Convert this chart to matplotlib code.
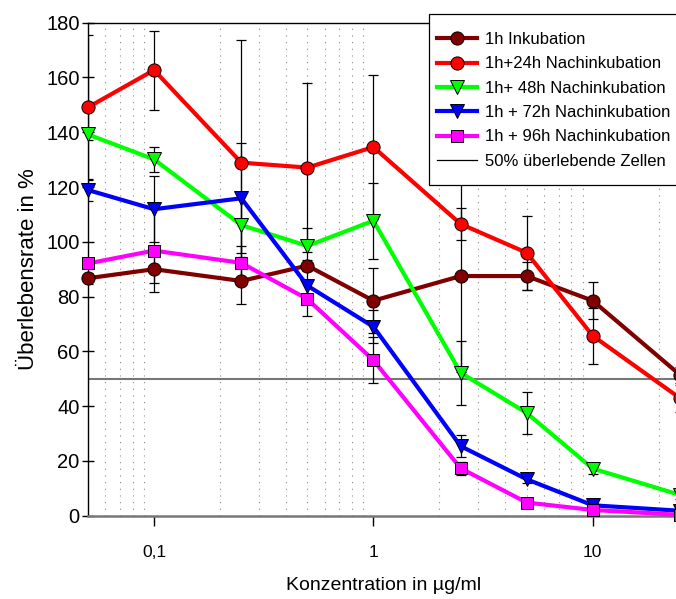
import matplotlib
matplotlib.use('Agg')
import matplotlib.pyplot as plt
from matplotlib.lines import Line2D
from matplotlib.patches import Rectangle
from matplotlib.ticker import FixedLocator, FixedFormatter, LogLocator, NullFormatter

# ── Data ──
conc = [0.05, 0.1, 0.25, 0.5, 1, 2.5, 5, 10, 25]

series_labels = ['1h Inkubation', '1h+24h Nachinkubation', '1h+ 48h Nachinkubation',
                 '1h + 72h Nachinkubation', '1h + 96h Nachinkubation']

inkub_1h = [86.7, 90.0, 85.7, 91.3, 78.5, 87.5, 87.5, 78.5, 51.4]
err_1h   = [2.0, 5.0, 8.4, 2.0, 11.8, 35.0, 5.0, 6.7, 3.0]
nach_24h = [149.1, 162.7, 128.9, 127.1, 134.6, 106.5, 96.0, 65.7, 42.9]
err_24h  = [26.4, 14.4, 44.7, 31.0, 26.3, 5.7, 13.5, 10.3, 5.0]
nach_48h = [139.2, 130.1, 106.1, 98.5, 107.7, 52.2, 37.5, 17.2, 7.6]
err_48h  = [2.0, 4.5, 11.6, 6.4, 13.9, 11.6, 7.5, 2.1, 1.5]
nach_72h = [118.9, 111.9, 115.9, 84.0, 69.0, 25.4, 13.3, 3.8, 1.8]
err_72h  = [4.0, 12.0, 20.0, 6.2, 6.1, 4.0, 1.5, 1.0, 0.5]
nach_96h = [92.1, 96.8, 92.3, 79.1, 56.8, 17.3, 4.8, 2.1, 0.3]
err_96h  = [2.0, 15.0, 6.2, 6.2, 8.5, 2.4, 1.0, 0.5, 0.3]

half_line = 50
xticks = [0.1, 1, 10]
xtick_labels = ['0,1', '1', '10']
yticks = [0, 20, 40, 60, 80, 100, 120, 140, 160, 180]

# ── Style ──
plt.rcParams.update({
    'font.family': ['Liberation Sans', 'DejaVu Sans'],
    'font.size': 12,
})

colors  = ['#800000', '#FF0000', '#00FF00', '#0000FF', '#FF00FF']
markers = ['o', 'o', 'v', 'v', 's']
values  = [inkub_1h, nach_24h, nach_48h, nach_72h, nach_96h]
errors  = [err_1h, err_24h, err_48h, err_72h, err_96h]

W, H = 676, 599
fig = plt.figure(figsize=(W/100, H/100), dpi=100)
ax = fig.add_axes([88/W, 1 - 515.7/H, (680 - 88)/W, (515.7 - 22.7)/H])
ax.set_xscale('log')
ax.set_xlim(0.05, 25)
ax.set_ylim(0, 180)

# error bars underneath
for vals, err in zip(values, errors):
    ax.errorbar(conc, vals, yerr=err, fmt='none', ecolor='black', elinewidth=0.9,
                capsize=3.5, capthick=0.9, zorder=2)

handles = []
for vals, c, m, lab in zip(values, colors, markers, series_labels):
    ms = 8.5 if m == 's' else 9.5
    h, = ax.plot(conc, vals, color=c, lw=3, marker=m, markersize=ms,
                 markerfacecolor=c, markeredgecolor='black', markeredgewidth=0.7,
                 label=lab, zorder=3, clip_on=False)
    handles.append(h)

ax.axhline(half_line, color='#777777', lw=1.5, zorder=1.5)
handles.append(Line2D([], [], color='black', lw=0.9, label='50% überlebende Zellen'))

# dotted minor grid on x only
ax.xaxis.set_minor_locator(LogLocator(base=10, subs=range(2, 10)))
ax.xaxis.set_minor_formatter(NullFormatter())
ax.grid(which='minor', axis='x', color='#888888', linestyle=(0, (1, 5)), lw=0.8)
ax.tick_params(axis='x', which='minor', length=0)

ax.xaxis.set_major_locator(FixedLocator(xticks))
ax.xaxis.set_major_formatter(FixedFormatter(xtick_labels))
ax.set_yticks(yticks)
ax.tick_params(axis='x', which='major', direction='out', length=7, width=1,
               labelsize=12.5, pad=14)
ax.tick_params(axis='y', direction='inout', length=8, width=1, labelsize=14.5, pad=2)

ax.spines['bottom'].set_color('#777777')
ax.spines['bottom'].set_linewidth(1.8)
ax.spines['left'].set_linewidth(1.0)
ax.spines['top'].set_linewidth(1.0)

ax.set_xlabel('Konzentration in µg/ml', fontsize=14, labelpad=12)
ax.set_ylabel('Überlebensrate in %', fontsize=16, labelpad=5)

# legend box (frame drawn separately so it can run past the right edge)
box = Rectangle((429/W, 1 - 185/H), (690 - 429)/W, (185 - 14)/H,
                transform=fig.transFigure, facecolor='white', edgecolor='black',
                lw=0.9, zorder=5)
fig.add_artist(box)
leg = fig.legend(handles=handles, loc='upper left',
                 bbox_to_anchor=(437/W, 1 - 32/H), bbox_transform=fig.transFigure,
                 fontsize=12, frameon=False, handlelength=2.4, labelspacing=0.56,
                 borderpad=0, handletextpad=0.5, borderaxespad=0)
leg.set_zorder(6)

fig.savefig('out.png', dpi=100)
